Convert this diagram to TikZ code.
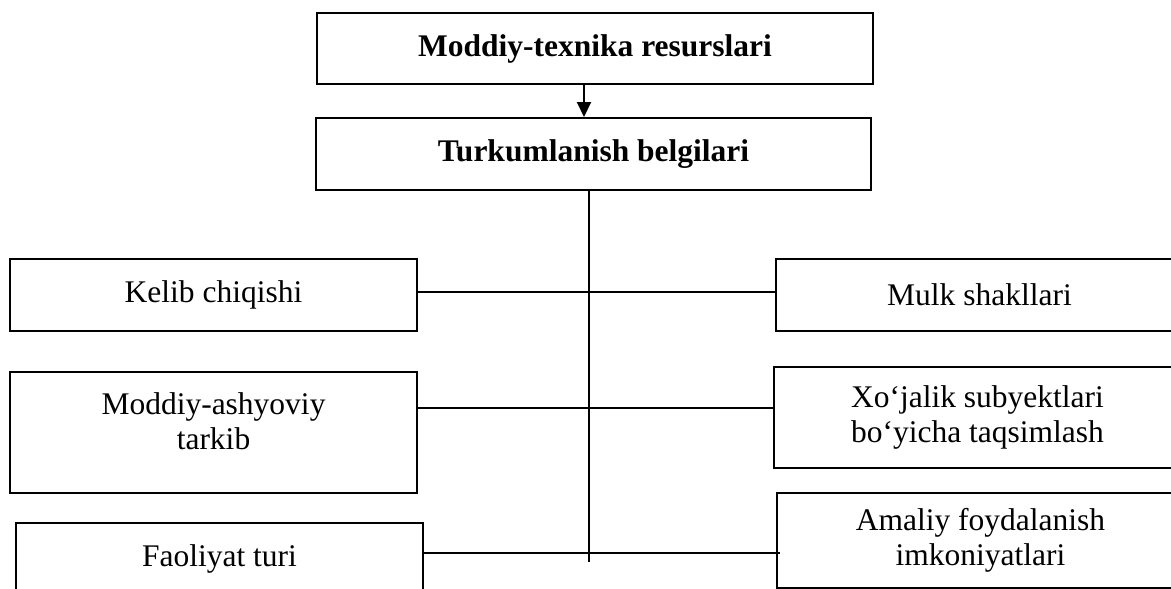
\documentclass[tikz,border=0pt]{standalone}
\usepackage{fontspec}
\setmainfont{Liberation Serif}
\usepackage{tikz}
\usetikzlibrary{arrows.meta,positioning,calc}

\begin{document}
\begin{tikzpicture}[x=1pt,y=-1pt,
		blok/.style={draw, line width=2pt, rectangle, inner sep=0pt, align=center,
			font=\fontsize{31.5}{35}\selectfont, minimum width=407pt, minimum height=72pt},
		bosh/.style={blok, font=\fontsize{31.5}{35}\selectfont\bfseries},
		chiziq/.style={line width=2pt}
	]
		\useasboundingbox (0,0) rectangle (1171,589);
		\clip (0,0) rectangle (1171,589);
		\node[bosh, minimum width=556pt, minimum height=71pt] (resurs) at (595,48.5) {Moddiy-texnika resurslari};
		\node[bosh, minimum width=555pt] (belgi) at (593.5,154) {Turkumlanish belgilari};
		\node[blok] (kelib) at (213.5,295) {Kelib chiqishi};
		\node[blok, minimum height=121pt, text height=57pt, text depth=24pt] (moddiy) at (213.5,432.5) {Moddiy-ashyoviy\\tarkib};
		\node[blok] (faoliyat) at (219.5,559) {Faoliyat turi};
		\node[blok] (mulk) at (979.5,295) {Mulk shakllari};
		\node[blok, minimum height=101pt] (xojalik) at (977.5,417.5) {Xo‘jalik subyektlari\\bo‘yicha taqsimlash};
		\node[blok, minimum height=95pt] (amaliy) at (980.5,540.5) {Amaliy foydalanish\\imkoniyatlari};
		\coordinate (strelka) at (584,0);
		\coordinate (ost) at (589,562);
		\draw[chiziq, -{Triangle[length=15pt,width=14pt]}] (resurs.south -| strelka) -- (belgi.north -| strelka);
		\draw[chiziq] (belgi.south -| ost) -- (ost)
			([yshift=3pt]kelib.east) -- ([yshift=3pt]mulk.west)
			([yshift=24.5pt]moddiy.east) -- ([yshift=9.5pt]xojalik.west)
			([yshift=6pt]faoliyat.east) -- ([xshift=4pt,yshift=-12.5pt]amaliy.west)
		;
%		\draw (kelib.east) -- (mulk.west);
	\end{tikzpicture}
\end{document}
